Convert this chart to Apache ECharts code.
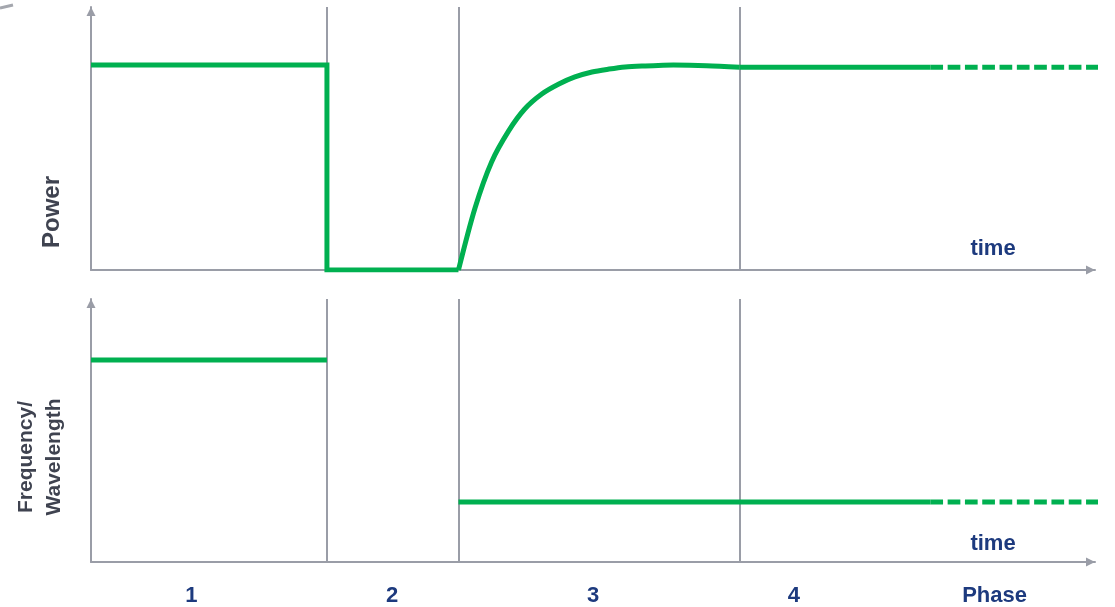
<!DOCTYPE html>
<html>
<head>
<meta charset="utf-8">
<script src="https://cdn.jsdelivr.net/npm/echarts@6/dist/echarts.min.js"></script>
<style>
  html, body { margin: 0; padding: 0; background: #fff; }
  #chart { width: 1115px; height: 607px; }
</style>
</head>
<body>
<div id="chart"></div>
<script>
// time axis runs 0..100, value axes 0..100
var phaseBounds = [23.5, 36.6, 64.6];
var phaseTicks = [10, 30, 50, 70, 90];
var phaseLabels = ['1', '2', '3', '4', 'Phase'];

var powerStep = [[0, 77.9], [23.5, 77.9], [23.5, 0], [36.6, 0]];
var powerRise = [[36.6, 0], [38.25, 23.6], [39.9, 41.1], [41.6, 52.9], [43.2, 61.2], [44.9, 66.9],
                 [46.6, 70.7], [48.2, 73.4], [49.9, 75.3], [51.6, 76.4], [53.2, 77.2], [54.9, 77.6],
                 [56.5, 77.8], [58.0, 77.9], [61.3, 77.7], [64.6, 77.1]];
var powerFlat = [[64.6, 77.1], [83.6, 77.1]];
var powerTail = [[83.6, 77.1], [100.3, 77.1]];

var freqBefore = [[0, 76.8], [23.5, 76.8]];
var freqAfter = [[36.6, 22.8], [83.6, 22.8]];
var freqTail = [[83.6, 22.8], [100.3, 22.8]];

var axisColor = '#9a9da7';
var green = '#00b050';
var navy = '#1d3a7e';
var font = 'Liberation Sans';

var chart = echarts.init(document.getElementById('chart'));

function xAx(grid, withLabels) {
    return {
        gridIndex: grid, type: 'value', min: 0, max: 100,
        axisLine: {
            show: true, onZero: false,
            symbol: ['none', 'triangle'], symbolSize: [9, 9], symbolOffset: [0, -4.5],
            lineStyle: { color: axisColor, width: 2 }
        },
        axisTick: { show: false },
        splitLine: { show: false },
        axisLabel: withLabels ? {
            show: true,
            customValues: phaseTicks,
            formatter: function (v) { return phaseLabels[phaseTicks.indexOf(v)]; },
            margin: 23,
            color: navy, fontSize: 22, fontWeight: 'bold', fontFamily: font
        } : { show: false }
    };
}
function yAx(grid) {
    return {
        gridIndex: grid, type: 'value', min: 0, max: 100,
        axisLine: {
            show: true,
            symbol: ['none', 'triangle'], symbolSize: [9, 9], symbolOffset: [0, -4.5],
            lineStyle: { color: axisColor, width: 2 }
        },
        axisTick: { show: false },
        splitLine: { show: false },
        axisLabel: { show: false }
    };
}
// empty series that only carries the grey phase separators, kept under the green lines
function phaseSeries(grid) {
    return {
        type: 'line', xAxisIndex: grid, yAxisIndex: grid, data: [], z: 1, silent: true,
        markLine: {
            silent: true, symbol: 'none', animation: false,
            label: { show: false },
            lineStyle: { color: axisColor, width: 2, type: 'solid' },
            data: phaseBounds.map(function (b) { return { xAxis: b }; })
        }
    };
}
function lineSeries(grid, data, opts) {
    var s = {
        type: 'line', xAxisIndex: grid, yAxisIndex: grid, data: data, z: 5,
        showSymbol: false, symbol: 'none', silent: true,
        lineStyle: { color: green, width: 5, cap: 'butt', join: 'miter' }
    };
    for (var k in opts) s[k] = opts[k];
    return s;
}
var dashed = { color: green, width: 5, type: [12.7, 4.6], cap: 'butt' };

var option = {
    animation: false,
    grid: [
        { left: 91, right: 20, top: 7, height: 263 },
        { left: 91, right: 20, top: 299, height: 263 }
    ],
    xAxis: [xAx(0, false), xAx(1, true)],
    yAxis: [yAx(0), yAx(1)],
    graphic: [
        { type: 'line', shape: { x1: 0, y1: 8, x2: 13, y2: 5 }, style: { stroke: '#a4a7ae', lineWidth: 3 } },
        { type: 'text', x: 993, y: 249, style: { text: 'time', fill: navy, font: 'bold 22px ' + font, align: 'center', verticalAlign: 'middle' } },
        { type: 'text', x: 993, y: 544, style: { text: 'time', fill: navy, font: 'bold 22px ' + font, align: 'center', verticalAlign: 'middle' } },
        { type: 'text', x: 52, y: 212, rotation: Math.PI / 2, style: { text: 'Power', fill: '#3f4350', font: 'bold 24px ' + font, align: 'center', verticalAlign: 'middle' } },
        { type: 'text', x: 40, y: 457, rotation: Math.PI / 2, style: { text: 'Frequency/\nWavelength', fill: '#3f4350', font: 'bold 21px ' + font, lineHeight: 28, align: 'center', verticalAlign: 'middle' } }
    ],
    series: [
        phaseSeries(0),
        phaseSeries(1),
        lineSeries(0, powerStep, {}),
        lineSeries(0, powerRise, { smooth: 0.3 }),
        lineSeries(0, powerFlat, {}),
        lineSeries(0, powerTail, { clip: false, lineStyle: dashed }),
        lineSeries(1, freqBefore, {}),
        lineSeries(1, freqAfter, {}),
        lineSeries(1, freqTail, { clip: false, lineStyle: dashed })
    ]
};
chart.setOption(option);
</script>
</body>
</html>
